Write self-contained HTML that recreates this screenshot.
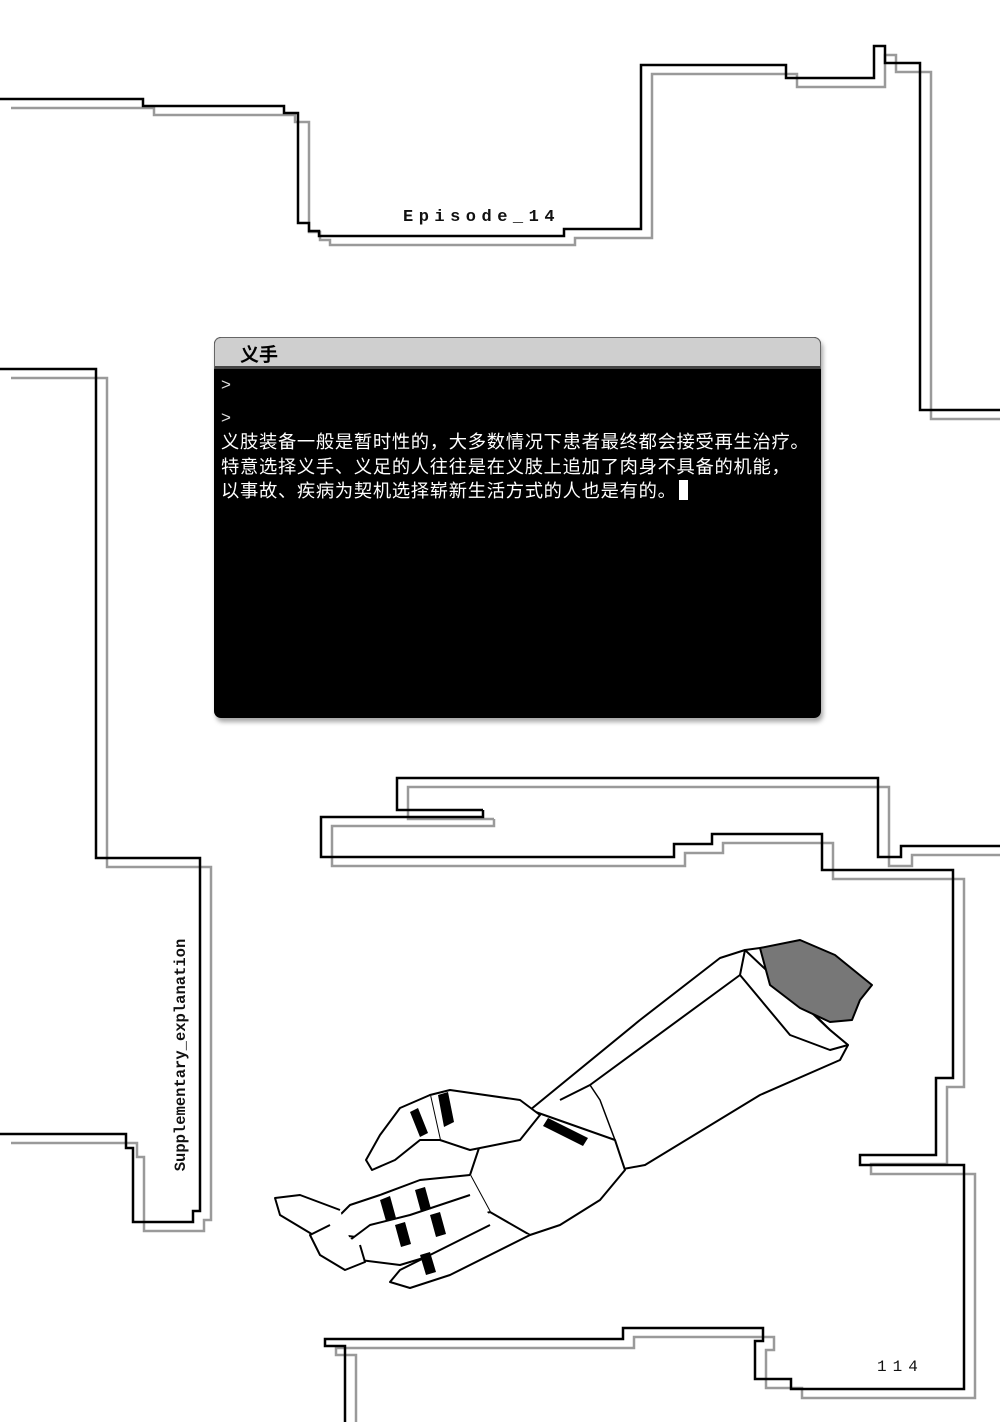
<!DOCTYPE html>
<html><head><meta charset="utf-8">
<style>
html,body{margin:0;padding:0;background:#fff;}
body{width:1000px;height:1422px;position:relative;overflow:hidden;}
svg{position:absolute;left:0;top:0;}
.term{position:absolute;left:214px;top:337px;width:607px;height:381px;border-radius:7px;background:#000;box-shadow:2px 4px 5px rgba(0,0,0,0.35);overflow:hidden;}
.bar{height:28px;background:#cfcfcf;border:1px solid #666;border-bottom:3px solid #444;border-radius:7px 7px 0 0;position:relative;}
.bar span{position:absolute;left:25px;top:2px;font:bold 19px "Liberation Sans","Noto Sans CJK SC",sans-serif;color:#000;}
.l{position:absolute;left:7px;color:#fff;font:18.3px "Liberation Sans","Noto Sans CJK SC",sans-serif;line-height:24px;white-space:nowrap;letter-spacing:0.7px;}
.gt{color:#ddd;font-size:17px;}
.cur{display:inline-block;width:9px;height:20px;background:#fff;vertical-align:-3px;margin-left:2px;}
.ep{position:absolute;left:403px;top:208px;font:bold 17px "Liberation Mono",monospace;letter-spacing:5.5px;color:#111;}
.pg{position:absolute;left:877px;top:1358px;font:16px "Liberation Mono",monospace;letter-spacing:6px;color:#111;}
.sup{position:absolute;left:181px;top:1055px;transform:translate(-50%,-50%) rotate(-90deg);font:bold 15.5px "Liberation Mono",monospace;color:#111;white-space:nowrap;}
</style></head><body>
<svg width="1000" height="1422" viewBox="0 0 1000 1422">
<g fill="none" stroke-linejoin="miter">
<g stroke="#9a9a9a" stroke-width="2.5" transform="translate(11,9)">
<polyline points="0,99 143,99 143,106 284,106 284,113 298,113 298,223 309,223 309,231 319,231 319,236 564,236 564,229 641,229 641,65 786,65 786,78 874,78 874,46 885,46 885,63 920,63 920,410 1000,410"/>
<polyline points="0,369 96,369 96,858 200,858 200,1211 193,1211 193,1222 133,1222 133,1148 126,1148 126,1134 0,1134"/>
<polyline points="483,810 397,810 397,778 878,778 878,857 901,857 901,846 1000,846"/>
<polyline points="483,810 483,817 321,817 321,857 674,857 674,844 712,844 712,834 822,834 822,870 953,870 953,1078 936,1078 936,1155 860,1155 860,1165 964,1165 964,1389 791,1389 791,1379 755,1379 755,1341 763,1341 763,1328 623,1328 623,1339 325,1339 325,1346 345,1346 345,1422"/>
</g>
<g stroke="#000" stroke-width="2.5">
<polyline points="0,99 143,99 143,106 284,106 284,113 298,113 298,223 309,223 309,231 319,231 319,236 564,236 564,229 641,229 641,65 786,65 786,78 874,78 874,46 885,46 885,63 920,63 920,410 1000,410"/>
<polyline points="0,369 96,369 96,858 200,858 200,1211 193,1211 193,1222 133,1222 133,1148 126,1148 126,1134 0,1134"/>
<polyline points="483,810 397,810 397,778 878,778 878,857 901,857 901,846 1000,846"/>
<polyline points="483,810 483,817 321,817 321,857 674,857 674,844 712,844 712,834 822,834 822,870 953,870 953,1078 936,1078 936,1155 860,1155 860,1165 964,1165 964,1389 791,1389 791,1379 755,1379 755,1341 763,1341 763,1328 623,1328 623,1339 325,1339 325,1346 345,1346 345,1422"/>
</g>
</g>
<g stroke="#000" stroke-width="2" fill="#fff" stroke-linejoin="round">
<path d="M530,1110 L640,1020 L720,958 L745,950 L760,948 L780,980 L830,1030 L848,1045 L840,1060 L760,1095 L645,1165 L618,1170 Z"/>
<path d="M745,950 L740,975 L790,1035 L830,1050 L848,1045 L830,1030 Z"/>
<path d="M740,975 L590,1085 L560,1100" fill="none"/>
<path d="M590,1085 L600,1100 L615,1140" fill="none" stroke-width="1.5"/>
<path d="M530,1110 L615,1140 L625,1170 L600,1200 L560,1225 L530,1235 L490,1212 L470,1175 L480,1145 Z"/>
<path d="M760,948 L800,940 L835,955 L872,985 L860,1000 L852,1020 L830,1022 L800,1008 L770,985 Z" fill="#777"/>
<path d="M430,1095 L450,1090 L520,1100 L540,1115 L520,1140 L470,1150 L440,1140 Z"/>
<path d="M430,1095 L400,1108 L380,1135 L366,1160 L372,1170 L395,1160 L420,1140 L440,1140"/>
<path d="M470,1175 L420,1180 L380,1195 L350,1205 L335,1220 L340,1235 L380,1240 L430,1232 L490,1212"/>
<path d="M470,1195 L410,1215 L370,1225 L350,1240 L360,1260 L400,1265 L450,1250 L505,1230"/>
<path d="M490,1225 L440,1250 L400,1270 L390,1282 L410,1288 L450,1275 L530,1235"/>
<path d="M340,1210 L300,1195 L275,1198 L280,1215 L305,1230 L330,1245 L350,1240"/>
<path d="M330,1225 L310,1235 L320,1255 L345,1270 L365,1262 L360,1245"/>
</g>
<g fill="#000">
<path d="M438,1095 l10,-3 l6,30 l-10,5 z"/><path d="M410,1112 l8,-4 l10,25 l-8,4 z"/>
<path d="M380,1200 l10,-4 l6,22 l-10,3 z"/><path d="M415,1190 l10,-3 l6,22 l-10,3 z"/>
<path d="M395,1225 l10,-3 l6,22 l-10,3 z"/><path d="M430,1215 l10,-3 l6,22 l-10,3 z"/>
<path d="M420,1255 l10,-3 l6,20 l-10,3 z"/><path d="M548,1118 l40,20 l-5,8 l-40,-20 z"/>
</g>
</svg>
<div class="ep">Episode_14</div>
<div class="term"><div class="bar"><span>义手</span></div>
<div class="l gt" style="top:36px">&gt;</div>
<div class="l gt" style="top:69px">&gt;</div>
<div class="l" style="top:93px">义肢装备一般是暂时性的，大多数情况下患者最终都会接受再生治疗。</div>
<div class="l" style="top:118px">特意选择义手、义足的人往往是在义肢上追加了肉身不具备的机能，</div>
<div class="l" style="top:142px">以事故、疾病为契机选择崭新生活方式的人也是有的。<span class="cur"></span></div>
</div>
<div class="sup">Supplementary_explanation</div>
<div class="pg">114</div>
</body></html>
